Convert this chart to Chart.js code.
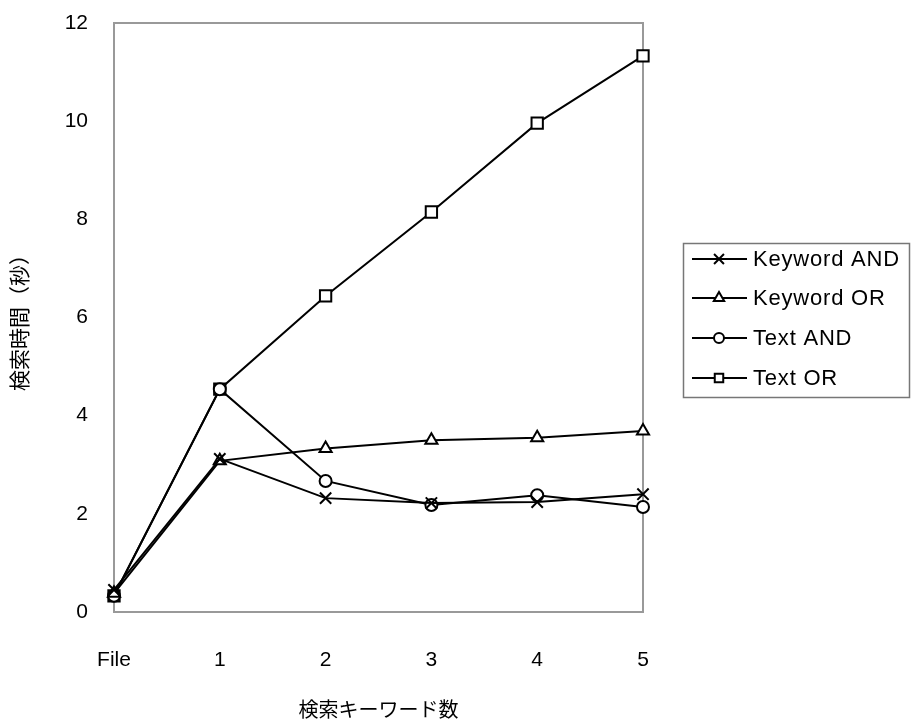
<!DOCTYPE html>
<html>
<head>
<meta charset="utf-8">
<script src="https://cdn.jsdelivr.net/npm/chart.js@4/dist/chart.umd.min.js"></script>
<style>
  html, body { margin: 0; padding: 0; background: #fff; }
  #wrap { width: 912px; height: 725px; position: relative; }
</style>
</head>
<body>
<div id="wrap"><canvas id="chart" width="912" height="725"></canvas></div>
<script>
const categories = ['File', '1', '2', '3', '4', '5'];
const keywordAnd = [0.45, 3.12, 2.32, 2.22, 2.24, 2.40];
const keywordOr = [0.38, 3.08, 3.33, 3.50, 3.55, 3.69];
const textAnd = [0.33, 4.54, 2.67, 2.18, 2.38, 2.14];
const textOr = [0.33, 4.54, 6.44, 8.15, 9.96, 11.33];
const yTicks = [0, 2, 4, 6, 8, 10, 12];

const seriesNames = ['Keyword AND', 'Keyword OR', 'Text AND', 'Text OR'];
const seriesData = [keywordAnd, keywordOr, textAnd, textOr];
const markers = ['crossRot', 'triangle', 'circle', 'rect'];
const markerSize = [8, 7, 6, 8];
const legendSize = [7, 6, 5, 6];

const FONT = '"Liberation Sans", Arial, sans-serif';
const CJK = '"Noto Sans CJK JP", "Liberation Sans", sans-serif';

// gray frame around the plot area and the legend box
const framePlugin = {
  id: 'frame',
  beforeDatasetsDraw(chart) {
    const { ctx, chartArea: a } = chart;
    ctx.save();
    ctx.strokeStyle = '#999';
    ctx.lineWidth = 2;
    ctx.strokeRect(a.left, a.top, a.right - a.left, a.bottom - a.top);
    ctx.restore();
  },
  afterDraw(chart) {
    const ctx = chart.ctx;
    ctx.save();
    ctx.strokeStyle = '#777';
    ctx.lineWidth = 1.5;
    ctx.strokeRect(683.5, 243.5, 226, 154);
    ctx.font = '22px ' + FONT;
    ctx.letterSpacing = '0.8px';
    ctx.textBaseline = 'middle';
    const rows = [259, 298, 338, 378];
    seriesNames.forEach((name, i) => {
      const y = rows[i];
      ctx.strokeStyle = '#000';
      ctx.lineWidth = 2;
      ctx.beginPath();
      ctx.moveTo(692, y);
      ctx.lineTo(747, y);
      ctx.stroke();
      ctx.fillStyle = '#fff';
      Chart.helpers.drawPoint(ctx, {
        pointStyle: markers[i], radius: legendSize[i], borderWidth: 2, rotation: 0
      }, 719, y);
      ctx.fillStyle = '#000';
      ctx.fillText(name, 753, y + 1);
    });
    ctx.restore();
  }
};

new Chart(document.getElementById('chart'), {
  type: 'line',
  data: {
    labels: categories,
    datasets: seriesData.map((d, i) => ({
      label: seriesNames[i],
      data: d,
      borderColor: '#000',
      borderWidth: 2,
      pointStyle: markers[i],
      pointRadius: markerSize[i],
      pointBorderWidth: 2,
      pointBorderColor: '#000',
      pointBackgroundColor: '#fff',
      tension: 0,
      clip: false
    }))
  },
  options: {
    responsive: false,
    animation: false,
    layout: { padding: { top: 23, right: 269, left: 0, bottom: 0 } },
    plugins: {
      legend: { display: false },
      tooltip: { enabled: false }
    },
    scales: {
      x: {
        offset: false,
        grid: { display: false },
        border: { display: false },
        ticks: { color: '#000', font: { size: 21, family: FONT }, padding: 28, maxRotation: 0 },
        title: { display: true, text: '検索キーワード数', color: '#000', font: { size: 20, family: CJK }, padding: { top: 14 } },
        afterFit(s) { s.height = 113; s.paddingLeft = 0; s.paddingRight = 0; }
      },
      y: {
        min: 0,
        max: 12,
        afterBuildTicks(s) { s.ticks = yTicks.map(v => ({ value: v })); },
        grid: { display: false },
        border: { display: false },
        ticks: { color: '#000', font: { size: 21, family: FONT }, padding: 18 },
        title: { display: true, text: '検索時間（秒）', color: '#000', font: { size: 21, family: CJK }, padding: { top: 6, bottom: 6 } },
        afterFit(s) { s.width = 114; s.paddingTop = 0; s.paddingBottom = 0; }
      }
    }
  },
  plugins: [framePlugin]
});
</script>
</body>
</html>
